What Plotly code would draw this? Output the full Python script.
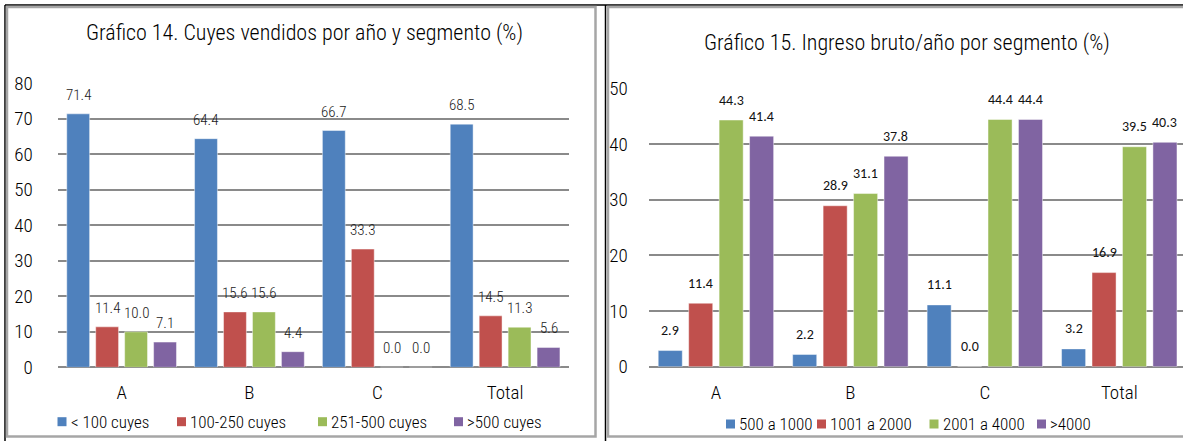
import plotly.graph_objects as go

W, H = 1183, 441

# ---------------- data ----------------
categories = ["A", "B", "C", "Total"]

g14_title = "Gráfico 14. Cuyes vendidos por año y segmento (%)"
g14_series = ["< 100 cuyes", "100-250 cuyes", "251-500 cuyes", ">500 cuyes"]
g14_lt100 = [71.4, 64.4, 66.7, 68.5]
g14_100_250 = [11.4, 15.6, 33.3, 14.5]
g14_251_500 = [10.0, 15.6, 0.0, 11.3]
g14_gt500 = [7.1, 4.4, 0.0, 5.6]
g14_yticks = [0, 10, 20, 30, 40, 50, 60, 70, 80]

g15_title = "Gráfico 15. Ingreso bruto/año por segmento (%)"
g15_series = ["500 a 1000", "1001 a 2000", "2001 a 4000", ">4000"]
g15_500_1000 = [2.9, 2.2, 11.1, 3.2]
g15_1001_2000 = [11.4, 28.9, 0.0, 16.9]
g15_2001_4000 = [44.3, 31.1, 44.4, 39.5]
g15_gt4000 = [41.4, 37.8, 44.4, 40.3]
g15_yticks = [0, 10, 20, 30, 40, 50]

colors = ["#4F81BD", "#C0504D", "#9BBB59", "#8064A2"]

NARROW = "Roboto Condensed, Liberation Sans Narrow, Arial Narrow, sans-serif"
CALIBRI = "Carlito, Calibri, Lato, Open Sans, sans-serif"
GRID = "#8A8A8A"


def px(x):
    return x / W


def py(y):
    return 1 - y / H


fig = go.Figure()

g14_values = [g14_lt100, g14_100_250, g14_251_500, g14_gt500]
g15_values = [g15_500_1000, g15_1001_2000, g15_2001_4000, g15_gt4000]

for name, vals, col in zip(g14_series, g14_values, colors):
    fig.add_trace(go.Bar(x=categories, y=vals, name=name, marker_color=col,
                         marker_line=dict(color="rgba(255,255,255,0.45)", width=1),
                         xaxis="x", yaxis="y", showlegend=False))
for name, vals, col in zip(g15_series, g15_values, colors):
    fig.add_trace(go.Bar(x=categories, y=vals, name=name, marker_color=col,
                         marker_line=dict(color="rgba(255,255,255,0.45)", width=1),
                         xaxis="x2", yaxis="y2", showlegend=False))

annotations = []
# data labels
slot14 = 29.0
slot15 = 30.4
for i, vals in enumerate(g14_values):
    for c, v in zip(categories, vals):
        annotations.append(dict(x=c, y=v, xref="x", yref="y", text=f"{v:.1f}",
                                showarrow=False, xshift=(i - 1.5) * slot14, yshift=19,
                                font=dict(family=NARROW, size=15, weight=300, color="#1a1a1a")))
for i, vals in enumerate(g15_values):
    for c, v in zip(categories, vals):
        annotations.append(dict(x=c, y=v, xref="x2", yref="y2", text=f"{v:.1f}",
                                showarrow=False, xshift=(i - 1.5) * slot15, yshift=20,
                                font=dict(family=CALIBRI, size=14, color="#111111")))

# titles
annotations.append(dict(x=px(304), y=py(33), xref="paper", yref="paper", text=g14_title,
                        showarrow=False, xanchor="center", yanchor="middle",
                        font=dict(family=NARROW, size=22, weight=300, color="#000000")))
annotations.append(dict(x=px(907), y=py(43), xref="paper", yref="paper", text=g15_title,
                        showarrow=False, xanchor="center", yanchor="middle",
                        font=dict(family=NARROW, size=22, weight=300, color="#000000")))

shapes = []
# manual legends
leg14_x = [57.5, 177, 318, 454]
leg15_x = [726, 817, 929.5, 1037]
for xs, ycen, names in ((leg14_x, 421.7, g14_series), (leg15_x, 424, g15_series)):
    for x0, name, col in zip(xs, names, colors):
        shapes.append(dict(type="rect", xref="paper", yref="paper",
                           x0=px(x0), x1=px(x0 + 9), y0=py(ycen + 4.5), y1=py(ycen - 4.5),
                           fillcolor=col, line=dict(width=0)))
        annotations.append(dict(x=px(x0 + 11), y=py(ycen), xref="paper", yref="paper",
                                text=name, showarrow=False, xanchor="left", yanchor="middle",
                                font=dict(family=NARROW, size=17, weight=300, color="#000000")))

# frames
shapes.append(dict(type="line", xref="paper", yref="paper", x0=px(5), x1=1, y0=py(5), y1=py(5),
                   line=dict(color="#000000", width=1.5)))
shapes.append(dict(type="line", xref="paper", yref="paper", x0=px(5), x1=px(5), y0=py(5), y1=0,
                   line=dict(color="#000000", width=1.5)))
shapes.append(dict(type="line", xref="paper", yref="paper", x0=px(605.5), x1=px(605.5), y0=py(5), y1=0,
                   line=dict(color="#000000", width=1.5)))
shapes.append(dict(type="rect", xref="paper", yref="paper", x0=px(7), x1=px(595.5), y0=py(436.5), y1=py(7),
                   line=dict(color="#A6A6A6", width=2.5)))
shapes.append(dict(type="rect", xref="paper", yref="paper", x0=px(608), x1=px(1195), y0=py(436.5), y1=py(7),
                   line=dict(color="#A6A6A6", width=2.5)))

axis_common = dict(showline=False, ticks="", fixedrange=True, automargin=False)

fig.update_layout(
    width=W, height=H, autosize=False,
    margin=dict(l=0, r=0, t=0, b=0, pad=0, autoexpand=False),
    paper_bgcolor="white", plot_bgcolor="white",
    barmode="group", bargap=0.094, bargroupgap=0.21,
    showlegend=False,
    xaxis=dict(domain=[px(57.7), px(569)], anchor="y", range=[-0.5, 3.5],
               tickfont=dict(family=NARROW, size=19, weight=300, color="#000000"),
               showgrid=False, zeroline=False, ticklabelstandoff=12, **axis_common),
    yaxis=dict(domain=[py(367.3), py(83.3)], anchor="x", range=[0, 80], tickvals=g14_yticks,
               tickfont=dict(family=NARROW, size=19, weight=300, color="#000000"),
               showgrid=True, gridcolor=GRID, gridwidth=2, zeroline=True, zerolinecolor=GRID,
               zerolinewidth=2, ticklabelstandoff=24, **axis_common),
    xaxis2=dict(domain=[px(648.7), 1], anchor="y2", range=[-0.5, 3.474],
                tickfont=dict(family=NARROW, size=19, weight=300, color="#000000"),
                showgrid=False, zeroline=False, ticklabelstandoff=12, **axis_common),
    yaxis2=dict(domain=[py(366.7), py(88.3)], anchor="x2", range=[0, 50], tickvals=g15_yticks,
                tickfont=dict(family=NARROW, size=19, weight=300, color="#000000"),
                showgrid=True, gridcolor=GRID, gridwidth=2, zeroline=True, zerolinecolor=GRID,
                zerolinewidth=2, ticklabelstandoff=20, **axis_common),
    annotations=annotations,
    shapes=shapes,
)

fig.write_html(
    "out.html",
    config={"displayModeBar": False, "responsive": False},
    post_script="document.body.style.margin='0';document.body.style.padding='0';document.body.style.overflow='hidden';",
)
